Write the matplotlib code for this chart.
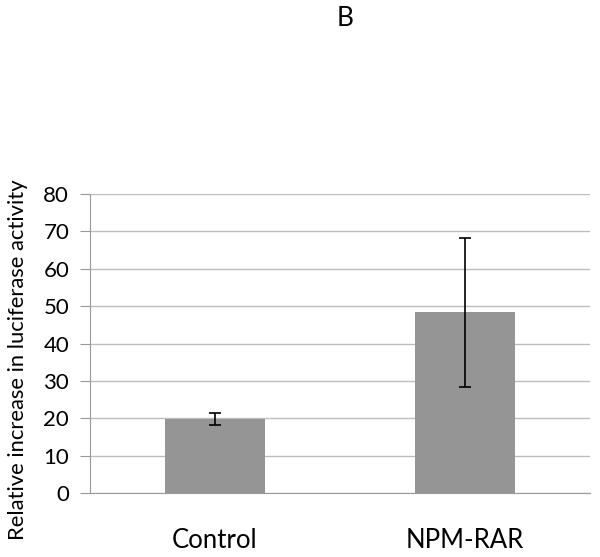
import matplotlib
matplotlib.use("Agg")
import matplotlib.pyplot as plt

categories = ["Control", "NPM-RAR"]
values = [19.8, 48.3]
errors = [1.5, 19.9]
yticks = [0, 10, 20, 30, 40, 50, 60, 70, 80]

plt.rcParams['font.family'] = ['Lato', 'DejaVu Sans']

fig = plt.figure(figsize=(6.0, 5.57), dpi=100)
ax = fig.add_axes([90/600, 1-493/557, 500/600, (493-194)/557])

x = range(len(categories))
ax.bar(x, values, width=0.4, color="#959595", zorder=2)
ax.errorbar(x, values, yerr=errors, fmt="none", ecolor="black", elinewidth=1.2,
            capsize=4, capthick=1.2, zorder=3)

ax.set_xlim(-0.5, 1.5)
ax.set_ylim(0, 80)
ax.set_yticks(yticks)
ax.set_yticklabels([str(t) for t in yticks], fontsize=16)
ax.yaxis.grid(True, color="#bdbdbd", linewidth=1, zorder=0)
ax.set_axisbelow(True)
ax.set_xticks(list(x))
ax.set_xticklabels(categories, fontsize=18.5)
ax.tick_params(axis="x", length=0, pad=25)
ax.tick_params(axis="y", length=7, color="#999999", pad=8)
for s in ["top", "right"]:
    ax.spines[s].set_visible(False)
ax.spines["left"].set_color("#999999")
ax.spines["bottom"].set_color("#999999")
ax.set_ylabel("Relative increase in luciferase activity", fontsize=15.8)
ax.yaxis.set_label_coords(-0.124, 0.445)

fig.text(345/600, 1-18/557, "B", fontsize=19, ha="center", va="center")

fig.savefig("out.png", dpi=100)
